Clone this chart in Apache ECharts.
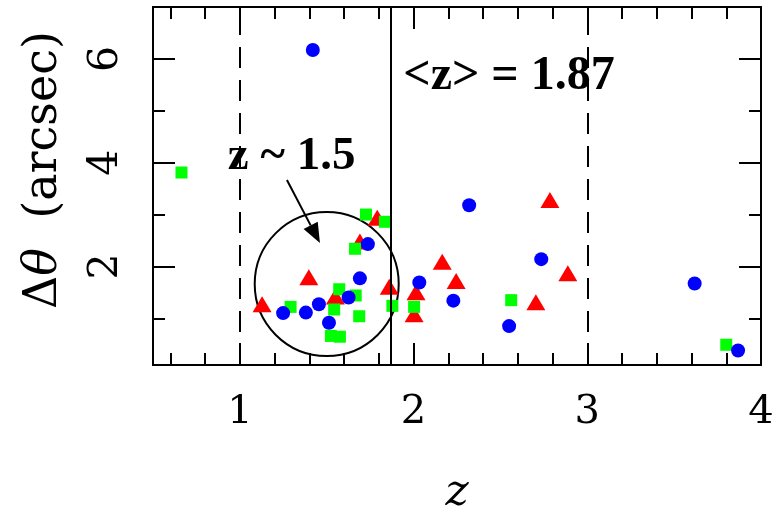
<!DOCTYPE html>
<html><head><meta charset="utf-8">
<script src="https://cdn.jsdelivr.net/npm/echarts@6/dist/echarts.min.js"></script>
<style>html,body{margin:0;padding:0;background:#fff}#c{width:781px;height:514px}</style>
</head><body><div id="c"></div>
<script>
// ---- data ----
const blueCircles = [[1.42,6.17],[2.32,3.18],[2.735,2.14],[3.618,1.67],[3.868,0.38],[2.033,1.69],[2.229,1.34],[2.55,0.85],[1.249,1.10],[1.380,1.11],[1.455,1.27],[1.513,0.915],[1.626,1.40],[1.691,1.77],[1.737,2.43]];
const redTriangles = [[2.785,3.28],[2.888,1.87],[2.245,1.72],[2.165,2.09],[2.704,1.31],[1.128,1.27],[1.397,1.79],[1.550,1.42],[1.691,2.48],[1.791,2.94],[1.860,1.61],[2.014,1.50],[2.003,1.08]];
const greenSquares = [[0.664,3.81],[2.562,1.35],[3.80,0.49],[1.292,1.22],[1.524,0.66],[1.576,0.645],[1.543,1.17],[1.572,1.56],[1.667,1.44],[1.687,1.04],[1.663,2.34],[1.726,3.00],[1.835,2.86],[1.878,1.24],[2.003,1.22]];
const meanZ = 1.87;
const zBounds = [1, 3];
const clusterCenter = [1.5, 1.66];
const xTickLabels = [1, 2, 3, 4];
const xMinorTicks = [0.6,0.8,1.2,1.4,1.6,1.8,2.2,2.4,2.6,2.8,3.2,3.4,3.6,3.8];
const yTickLabels = [2, 4, 6];
const yMinorTicks = [1, 3, 5];
const meanText = '<z> = 1.87';
const clusterText = 'z ~ 1.5';

const F = 'DejaVu Serif';
const blk = '#000';
function xAx(pos, major, showLab) {
  return {
    type: 'value', min: 0.5, max: 4, position: pos,
    axisLine: {show: true, onZero: false, lineStyle: {color: blk, width: 2}},
    axisTick: {show: true, inside: true, length: major ? 22 : 12,
      customValues: major ? xTickLabels : xMinorTicks, lineStyle: {color: blk, width: 2}},
    axisLabel: {show: showLab, customValues: xTickLabels, margin: 28, fontSize: 40, fontFamily: F, color: blk},
    splitLine: {show: false}
  };
}
function yAx(pos, major, showLab) {
  return {
    type: 'value', min: 0.1, max: 7, position: pos,
    axisLine: {show: true, onZero: false, lineStyle: {color: blk, width: 2}},
    axisTick: {show: true, inside: true, length: major ? 22 : 12,
      customValues: major ? yTickLabels : yMinorTicks, lineStyle: {color: blk, width: 2}},
    axisLabel: {show: showLab, customValues: yTickLabels, rotate: 90, margin: 26, fontSize: 41, fontFamily: F, color: blk},
    splitLine: {show: false}
  };
}
const xAxes = [xAx('bottom', true, true), xAx('bottom', false, false), xAx('top', true, false), xAx('top', false, false)];
xAxes[0].name = 'z';
xAxes[0].nameLocation = 'middle';
xAxes[0].nameGap = 107;
xAxes[0].nameTextStyle = {fontStyle: 'italic', fontSize: 44, fontFamily: F, color: blk};
const yAxes = [yAx('left', true, true), yAx('left', false, false), yAx('right', true, false), yAx('right', false, false)];

const chart = echarts.init(document.getElementById('c'), null, {renderer: 'canvas'});
chart.setOption({
  animation: false,
  backgroundColor: '#fff',
  grid: {left: 153, right: 20, top: 7, bottom: 149, containLabel: false, outerBoundsMode: 'none'},
  xAxis: xAxes,
  yAxis: yAxes,
  graphic: [{
    type: 'text', x: 44, y: 170, rotation: Math.PI / 2,
    style: {text: '{n|Δ}{i|θ}{n|  (arcsec)}', align: 'center', verticalAlign: 'middle', fill: blk,
      rich: {n: {fontFamily: F, fontSize: 46, fill: blk}, i: {fontFamily: F, fontSize: 46, fontStyle: 'italic', fill: blk}}}
  }],
  series: [
    {
      type: 'scatter', data: [], z: 1, silent: true,
      markLine: {
        silent: true, symbol: 'none', label: {show: false}, animation: false,
        data: [
          {xAxis: zBounds[0], lineStyle: {type: [21, 12], color: blk, width: 2}},
          {xAxis: zBounds[1], lineStyle: {type: [21, 12], color: blk, width: 2}},
          {xAxis: meanZ, lineStyle: {type: 'solid', color: blk, width: 2}}
        ]
      }
    },
    {
      type: 'custom', z: 2, silent: true, data: [clusterCenter],
      renderItem: function (params, api) {
        const c = api.coord([api.value(0), api.value(1)]);
        const a0 = api.coord([1.271, 3.665]);
        const tip = api.coord([1.461, 2.45]);
        const dx = tip[0] - a0[0], dy = tip[1] - a0[1];
        const L = Math.sqrt(dx * dx + dy * dy), ux = dx / L, uy = dy / L;
        const hl = 20, hw = 8;
        const bx = tip[0] - ux * hl, by = tip[1] - uy * hl;
        const t1 = api.coord([1.941, 5.65]);
        const t2 = api.coord([0.931, 4.11]);
        return {
          type: 'group',
          children: [
            {type: 'circle', shape: {cx: c[0], cy: c[1], r: 72}, style: {fill: 'none', stroke: blk, lineWidth: 2}},
            {type: 'line', shape: {x1: a0[0], y1: a0[1], x2: bx, y2: by}, style: {stroke: blk, lineWidth: 2}},
            {type: 'polygon', shape: {points: [[tip[0], tip[1]], [bx - uy * hw, by + ux * hw], [bx + uy * hw, by - ux * hw]]}, style: {fill: blk}},
            {type: 'text', style: {text: meanText, x: t1[0], y: t1[1], align: 'left', verticalAlign: 'middle', fill: blk, font: 'bold 48px "Liberation Serif"'}},
            {type: 'text', style: {text: clusterText, x: t2[0], y: t2[1], align: 'left', verticalAlign: 'middle', fill: blk, font: 'bold 47px "Liberation Serif"'}}
          ]
        };
      }
    },
    {type: 'scatter', z: 3, data: redTriangles, symbol: 'triangle', symbolSize: [19, 16], itemStyle: {color: '#ff0000', opacity: 1}},
    {type: 'scatter', z: 4, data: greenSquares, symbol: 'rect', symbolSize: 12, itemStyle: {color: '#00ff00', opacity: 1}},
    {type: 'scatter', z: 5, data: blueCircles, symbol: 'circle', symbolSize: 14, itemStyle: {color: '#0000ff', opacity: 1}}
  ]
});
</script></body></html>
